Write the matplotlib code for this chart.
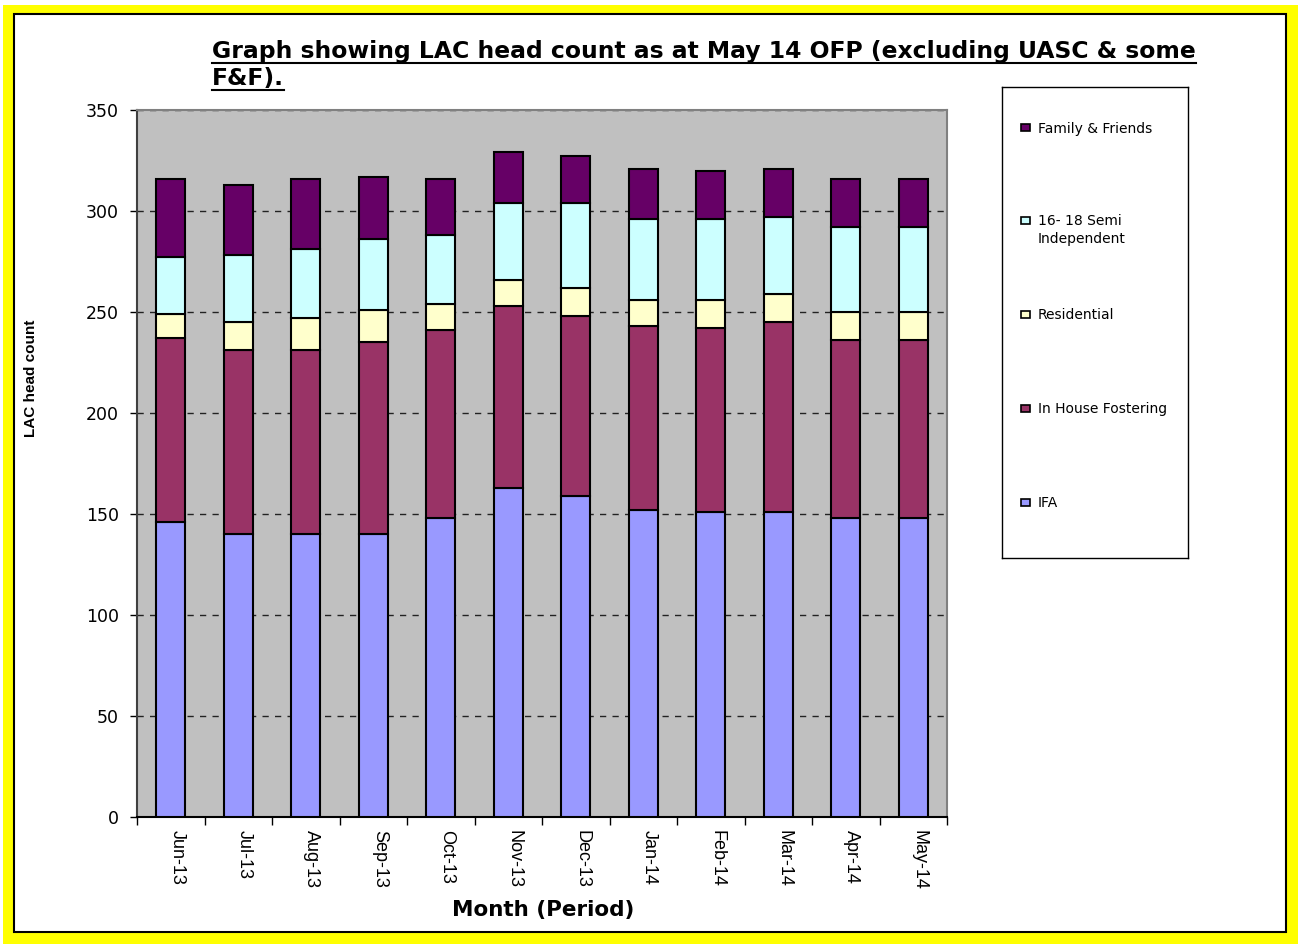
import matplotlib
matplotlib.use("Agg")
import matplotlib.pyplot as plt
import matplotlib.patches as mpatches
import matplotlib.transforms as mtransforms
from matplotlib.lines import Line2D
import numpy as np

plt.rcParams['font.family'] = ['DejaVu Sans']

# LAC head count by placement type, Jun-13 to May-14
months = ["Jun-13", "Jul-13", "Aug-13", "Sep-13", "Oct-13", "Nov-13",
          "Dec-13", "Jan-14", "Feb-14", "Mar-14", "Apr-14", "May-14"]
ifa = [146, 140, 140, 140, 148, 163, 159, 152, 151, 151, 148, 148]
in_house = [91, 91, 91, 95, 93, 90, 89, 91, 91, 94, 88, 88]
residential = [12, 14, 16, 16, 13, 13, 14, 13, 14, 14, 14, 14]
semi_indep = [28, 33, 34, 35, 34, 38, 42, 40, 40, 38, 42, 42]
family_friends = [39, 35, 35, 31, 28, 25, 23, 25, 24, 24, 24, 24]

series_names = ["IFA", "In House Fostering", "Residential",
                "16- 18 Semi\nIndependent", "Family & Friends"]
series_colors = ["#9999FF", "#993366", "#FFFFCC", "#CCFFFF", "#660066"]

W, H = 1298, 944
fig = plt.figure(figsize=(W / 100, H / 100), dpi=100)
fig.patch.set_facecolor("white")


def px(x0, y0, x1, y1):
    # pixel box (top-left origin) -> figure fraction rect
    return [x0 / W, 1 - y1 / H, (x1 - x0) / W, (y1 - y0) / H]


# yellow frame with a white, black-edged panel inside
r = px(3, 5, 1298, 944)
fig.add_artist(mpatches.Rectangle((r[0], r[1]), r[2], r[3], transform=fig.transFigure,
                                  facecolor="#FFFF00", edgecolor="none", zorder=-3))
r = px(14.5, 13.5, 1285.5, 931.5)
fig.add_artist(mpatches.Rectangle((r[0], r[1]), r[2], r[3], transform=fig.transFigure,
                                  facecolor="white", edgecolor="black", linewidth=1.5,
                                  zorder=-2))

ax = fig.add_axes(px(137, 110, 947, 817))
ax.set_facecolor("#C0C0C0")

x = np.arange(len(months))
stack = [ifa, in_house, residential, semi_indep, family_friends]
bottom = np.zeros(len(months))
for vals, name, col in zip(stack, series_names, series_colors):
    ax.bar(x, vals, width=0.43, bottom=bottom, color=col, edgecolor="black",
           linewidth=1.5, label=name, zorder=3)
    bottom += np.array(vals)

ax.set_xlim(-0.5, len(months) - 0.5)
ax.set_ylim(0, 350)
ax.set_yticks(range(0, 351, 50))
ax.yaxis.grid(True, color="#222222", linestyle=(0, (4.5, 4.5)), linewidth=1.0, zorder=1)
ax.tick_params(axis="y", direction="out", length=5, width=1, labelsize=12.5, pad=8)

ax.set_xticks(x)
ax.set_xticklabels(months, rotation=270, fontsize=13, family="Liberation Sans")
ax.set_xticks(np.arange(-0.5, len(months), 1), minor=True)
ax.tick_params(axis="x", which="major", length=0, pad=9)
ax.tick_params(axis="x", which="minor", direction="out", length=6, width=1)
shift = mtransforms.ScaledTranslation(6 / 100, 0, fig.dpi_scale_trans)
for lbl in ax.get_xticklabels():
    lbl.set_transform(lbl.get_transform() + shift)

for side in ["top", "right"]:
    ax.spines[side].set_color("#808080")
    ax.spines[side].set_linewidth(1.5)
ax.spines["left"].set_color("#404040")
ax.spines["left"].set_linewidth(1.5)
ax.spines["bottom"].set_color("black")
ax.spines["bottom"].set_linewidth(1.5)

fig.text(31 / W, 1 - 378 / H, "LAC head count", rotation=90, fontsize=11,
         fontweight="bold", ha="center", va="center", family="Liberation Sans")
fig.text(543 / W, 1 - 910 / H, "Month (Period)", fontsize=15.5, fontweight="bold",
         ha="center", va="center")

# underlined two-line title, sized so the first line spans 212..1197 px
title_lines = ["Graph showing LAC head count as at May 14 OFP (excluding UASC & some",
               "F&F)."]
baselines = [58, 85]
title_texts = []
for line, yb in zip(title_lines, baselines):
    t = fig.text(212 / W, 1 - yb / H, line, fontsize=15, fontweight="bold",
                 ha="left", va="baseline")
    title_texts.append(t)
fig.canvas.draw()
renderer = fig.canvas.get_renderer()
w0 = title_texts[0].get_window_extent(renderer).width
for t in title_texts:
    t.set_fontsize(15 * 985 / w0)
fig.canvas.draw()
for t, yb in zip(title_texts, baselines):
    bb = t.get_window_extent(renderer)
    yu = 1 - (yb + 4.5) / H
    fig.add_artist(Line2D([bb.x0 / W, bb.x1 / W], [yu, yu], transform=fig.transFigure,
                          color="black", linewidth=1.5))

# legend panel, entries top to bottom
lax = fig.add_axes(px(1002, 87, 1188, 558))
lax.set_xlim(1002, 1188)
lax.set_ylim(558, 87)
lax.set_xticks([])
lax.set_yticks([])
for s in lax.spines.values():
    s.set_color("black")
    s.set_linewidth(1)
entry_y = [502, 408, 314, 220, 128]
for name, col, ey in zip(series_names, series_colors, entry_y):
    lax.add_patch(mpatches.Rectangle((1021, ey - 3.5), 9, 7, facecolor=col,
                                     edgecolor="black", linewidth=1.2))
    lax.text(1038, ey - 6, name, fontsize=10, ha="left", va="top", linespacing=1.35)

fig.savefig("out.png", dpi=100)
